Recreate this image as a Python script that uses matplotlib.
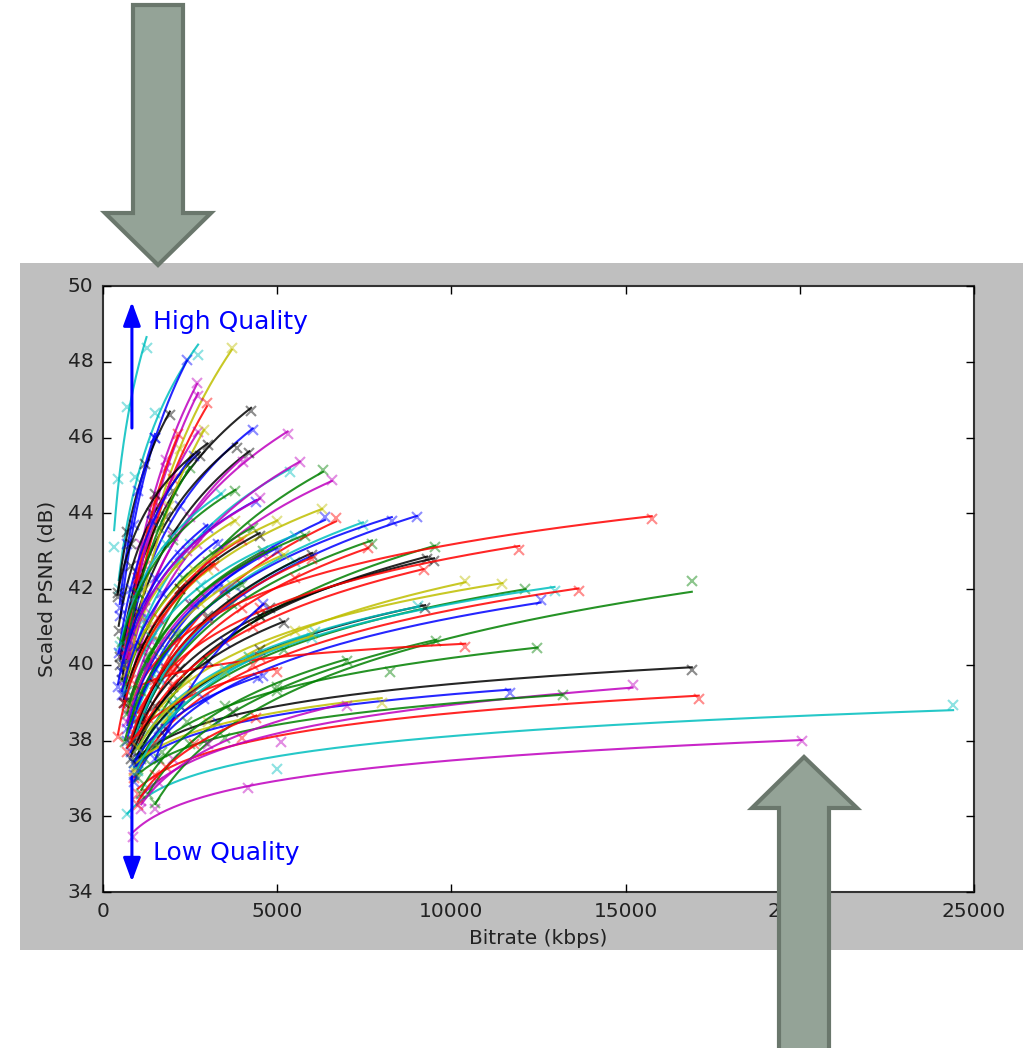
import numpy as np
import matplotlib.pyplot as plt
from matplotlib.patches import Polygon, Rectangle

plt.style.use('classic')
plt.rcParams['font.family'] = 'DejaVu Sans'

# steep curves in the upper left (kbps, dB)
steep_rates = [
    [320, 420, 680, 1250], [450, 920, 1500, 2730], [500, 900, 1500, 2410],
    [700, 1300, 2200, 3700], [650, 1100, 1800, 2700], [700, 1200, 2000, 2985],
    [420, 700, 1200, 1920], [500, 1000, 2000, 4250], [550, 1100, 2200, 4300],
    [600, 1200, 2500, 5300], [450, 800, 1400, 2780], [600, 1000, 1700, 2730],
    [480, 700, 1000, 1490], [700, 1100, 1800, 2730], [500, 900, 1800, 3850],
    [550, 1000, 2000, 4200], [600, 1100, 2000, 4020], [750, 1200, 1900, 2900],
    [650, 1000, 1500, 2150], [600, 1000, 1600, 2500], [450, 800, 1400, 2600],
]
steep_psnr = [
    [43.1, 44.9, 46.8, 48.35], [42.0, 44.95, 46.65, 48.18], [41.3, 43.7, 46.0, 48.05],
    [40.0, 43.0, 45.7, 48.35], [40.6, 43.2, 45.4, 47.45], [40.2, 42.6, 44.9, 46.9],
    [41.8, 43.5, 45.3, 46.6], [40.2, 42.4, 44.6, 46.7], [39.8, 42.0, 44.2, 46.2],
    [39.4, 41.7, 43.9, 46.1], [40.9, 42.6, 44.0, 45.5], [40.3, 42.3, 44.3, 46.15],
    [41.5, 43.2, 44.6, 46.0], [40.3, 42.6, 45.2, 47.1], [40.0, 41.9, 43.9, 45.72],
    [39.6, 41.4, 43.5, 45.6], [39.2, 41.2, 43.4, 45.35], [39.8, 42.0, 44.2, 46.2],
    [40.4, 42.3, 44.3, 46.1], [40.0, 41.9, 43.6, 45.2], [40.3, 42.0, 43.8, 45.5],
]
steep_colors = "ccbymrkkbmkmbmkkmyrgb"

# middle band
mid_rates = [
    [600, 1200, 2500, 5370], [650, 1300, 2700, 5650], [800, 1600, 3200, 6315],
    [700, 1400, 3000, 6570], [700, 1400, 3000, 6285], [800, 1600, 3300, 6370],
    [900, 1800, 3500, 6690], [900, 1800, 3700, 7460], [700, 1500, 3500, 8290],
    [800, 1700, 4000, 9010], [900, 1800, 3700, 7720], [1000, 2000, 4000, 7600],
    [1000, 2000, 4500, 9530], [1000, 2000, 4500, 9300], [1100, 2200, 4800, 9500],
    [1000, 2000, 4300, 9200], [1000, 2000, 4500, 11950], [1000, 2000, 5500, 15750],
    [1000, 1800, 4200, 10400], [1200, 2400, 5500, 11460], [1100, 2200, 5200, 12125],
    [900, 1800, 6085, 12960], [900, 1800, 4300, 13650], [900, 1800, 4600, 12560],
    [1000, 2000, 4500, 9245], [1000, 2000, 4200, 9050],
]
mid_psnr = [
    [39.2, 41.2, 43.2, 45.1], [39.0, 41.1, 43.2, 45.35], [38.6, 40.6, 42.9, 45.15],
    [38.8, 40.6, 42.7, 44.88], [39.3, 40.8, 42.5, 44.11], [38.4, 40.1, 42.0, 43.9],
    [38.2, 39.9, 41.9, 43.87], [38.5, 40.3, 42.1, 43.7], [38.0, 39.9, 42.0, 43.8],
    [37.7, 39.6, 41.9, 43.9], [38.0, 39.8, 41.6, 43.2], [38.1, 39.8, 41.5, 43.08],
    [37.4, 39.2, 41.3, 43.1], [37.8, 39.4, 41.3, 42.8], [38.4, 39.9, 41.5, 42.75],
    [38.0, 39.5, 41.0, 42.5], [38.6, 40.1, 41.5, 43.04], [39.3, 40.6, 42.3, 43.84],
    [37.3, 38.6, 40.2, 42.22], [38.3, 39.6, 40.9, 42.14], [37.5, 38.9, 40.4, 41.99],
    [37.4, 38.7, 40.87, 41.96], [37.0, 38.3, 40.0, 41.96], [36.9, 38.3, 39.7, 41.7],
    [37.6, 38.9, 40.4, 41.5], [37.8, 39.0, 40.2, 41.55],
]
mid_colors = "cmgmybrcbbgrgkkrrryygcrbkc"

# long, flat curves at the bottom
long_rates = [
    [700, 1300, 5000, 24400], [870, 1500, 4150, 20050], [950, 1700, 3730, 16900],
    [1000, 1800, 4000, 17100], [1100, 2000, 5100, 15200], [900, 1500, 3300, 11690],
    [1000, 1700, 3500, 13190], [1500, 2900, 8240, 16900], [1200, 2400, 5000, 12470],
    [1300, 2500, 5000, 9560], [1000, 2000, 4500, 10400], [900, 1500, 3000, 8000],
]
long_psnr = [
    [36.05, 36.75, 37.25, 38.95], [35.45, 36.2, 36.75, 38.0], [37.3, 38.2, 38.75, 39.85],
    [36.6, 37.3, 38.07, 39.1], [36.4, 37.5, 37.96, 39.47], [37.1, 37.9, 38.45, 39.25],
    [37.0, 37.7, 38.07, 39.2], [36.35, 38.0, 39.82, 42.2], [37.5, 38.5, 39.3, 40.44],
    [36.6, 37.9, 39.4, 40.63], [39.3, 39.9, 40.2, 40.48], [37.2, 37.9, 38.5, 39.0],
]
long_colors = "cmkrmbggggry"

# short curves filling the left cluster
short_rates = [
    [700, 1300, 2500, 4600], [800, 1500, 2800, 5200], [900, 1600, 3000, 5500],
    [600, 1100, 2200, 4000], [700, 1300, 2600, 5000], [700, 1300, 2500, 4600],
    [800, 1500, 3000, 6000], [650, 1200, 2300, 4300], [600, 1100, 2100, 3800],
    [500, 900, 1800, 3400], [800, 1500, 3000, 6000], [550, 1000, 2000, 3800],
    [600, 1100, 2200, 4400], [650, 1200, 2400, 4500], [700, 1300, 2600, 5000],
    [600, 1100, 2200, 4500], [700, 1400, 2800, 5500], [750, 1400, 2800, 5800],
    [430, 800, 1600, 3200], [430, 800, 1500, 3000], [545, 900, 1700, 3300],
    [630, 1100, 2100, 4000], [430, 800, 1500, 3000],
]
short_psnr = [
    [38.7, 40.2, 41.6, 43.0], [38.9, 40.3, 41.6, 42.9], [38.0, 39.6, 41.2, 42.7],
    [39.0, 40.5, 42.0, 43.3], [38.3, 40.0, 41.6, 43.0], [38.5, 40.0, 41.6, 42.9],
    [37.9, 39.5, 41.3, 42.9], [39.5, 40.9, 42.3, 43.6], [40.0, 41.3, 42.6, 43.8],
    [40.5, 41.8, 43.2, 44.5], [38.0, 39.6, 41.2, 42.8], [40.6, 41.9, 43.3, 44.6],
    [40.0, 41.4, 42.9, 44.3], [40.2, 41.5, 43.0, 44.4], [39.8, 41.0, 42.5, 43.8],
    [39.0, 40.5, 42.0, 43.4], [39.3, 40.7, 42.1, 43.4], [39.0, 40.4, 41.9, 43.4],
    [38.1, 39.6, 41.2, 42.6], [39.4, 40.9, 42.3, 43.6], [39.2, 40.5, 41.9, 43.2],
    [37.96, 39.3, 40.8, 42.1], [41.9, 43.2, 44.5, 45.8],
]
short_colors = "gycrbmkgycrgbmykcgrbbgk"

# lower-left curves
low_rates = [
    [1500, 2200, 3500, 4600], [700, 1300, 2600, 5000], [900, 1600, 2900, 4450],
    [800, 1500, 3000, 5200], [1100, 1600, 3500, 7000], [1000, 2000, 3500, 6000],
    [1000, 1800, 3500, 6000], [1100, 1580, 3000, 7000], [1000, 1500, 2600, 4400],
]
low_psnr = [
    [37.5, 38.9, 40.6, 41.6], [37.7, 38.6, 39.3, 39.81], [37.4, 38.3, 39.1, 39.65],
    [37.5, 38.9, 40.1, 41.1], [36.6, 37.5, 38.9, 40.1], [37.2, 38.7, 39.9, 40.7],
    [37.8, 38.8, 39.8, 40.8], [36.2, 36.9, 37.9, 38.9], [36.3, 37.1, 37.9, 38.6],
]
low_colors = "brbkgcymr"

W, H = 1023, 1048
fig = plt.figure(figsize=(W / 100, H / 100), dpi=100, facecolor='white')


def fig_pts(pts):
    return [(x / W, 1 - y / H) for x, y in pts]


# grey panel behind the plot
fig.patches.append(Rectangle((20 / W, 1 - 950 / H), 1003 / W, 687 / H,
                             transform=fig.transFigure, facecolor='#bfbfbf',
                             edgecolor='none', zorder=-1))

ax = fig.add_axes([103 / W, 1 - 892 / H, 871 / W, 606 / H])

groups = [
    (steep_rates, steep_psnr, steep_colors),
    (mid_rates, mid_psnr, mid_colors),
    (long_rates, long_psnr, long_colors),
    (short_rates, short_psnr, short_colors),
    (low_rates, low_psnr, low_colors),
]
for rates, psnr, colors in groups:
    for r, p, c in zip(rates, psnr, colors):
        r = np.array(r, dtype=float)
        p = np.array(p, dtype=float)
        k = np.polyfit(np.log(r), p, 1)
        xs = np.linspace(r.min(), r.max(), 200)
        ax.plot(xs, np.polyval(k, np.log(xs)), color=c, lw=1.5, alpha=0.85)
        ax.plot(r, p, 'x', color=c, ms=7, mew=1.5, alpha=0.45)

# quality arrows
ax.annotate('', xy=(830, 49.58), xytext=(830, 46.25),
            arrowprops=dict(arrowstyle='-|>,head_length=0.6,head_width=0.22',
                            color='blue', lw=2.2, mutation_scale=24,
                            shrinkA=0, shrinkB=0))
ax.annotate('', xy=(830, 34.27), xytext=(830, 37.04),
            arrowprops=dict(arrowstyle='-|>,head_length=0.6,head_width=0.22',
                            color='blue', lw=2.2, mutation_scale=24,
                            shrinkA=0, shrinkB=0))
ax.text(1435, 49.05, 'High Quality', color='blue', fontsize=18, va='center')
ax.text(1435, 35.03, 'Low Quality', color='blue', fontsize=18, va='center')

ax.set_xlim(0, 25000)
ax.set_ylim(34, 50)
ax.set_xticks(np.arange(0, 25001, 5000))
ax.set_yticks(np.arange(34, 51, 2))
ax.tick_params(direction='in', length=6, width=1, labelsize=14.5, pad=7,
               labelcolor='#222222', top=True, right=True)
for s in ax.spines.values():
    s.set_linewidth(1.5)
    s.set_color('#333333')
ax.set_xlabel('Bitrate (kbps)', fontsize=14.5, color='#222222', labelpad=6)
ax.set_ylabel('Scaled PSNR (dB)', fontsize=14.5, color='#222222', labelpad=8)

# big pointer arrows on top of the slide
top_arrow = [(133, 5), (183, 5), (183, 213), (211, 213), (158, 265), (105, 213), (133, 213)]
bottom_arrow = [(779, 1060), (829, 1060), (829, 808), (857, 808), (804, 757), (752, 808), (779, 808)]
for pts in (top_arrow, bottom_arrow):
    fig.patches.append(Polygon(fig_pts(pts), closed=True, transform=fig.transFigure,
                               facecolor='#94a397', edgecolor='#6a776c', lw=3, zorder=5))

fig.savefig('out.png', dpi=100, facecolor='white')
